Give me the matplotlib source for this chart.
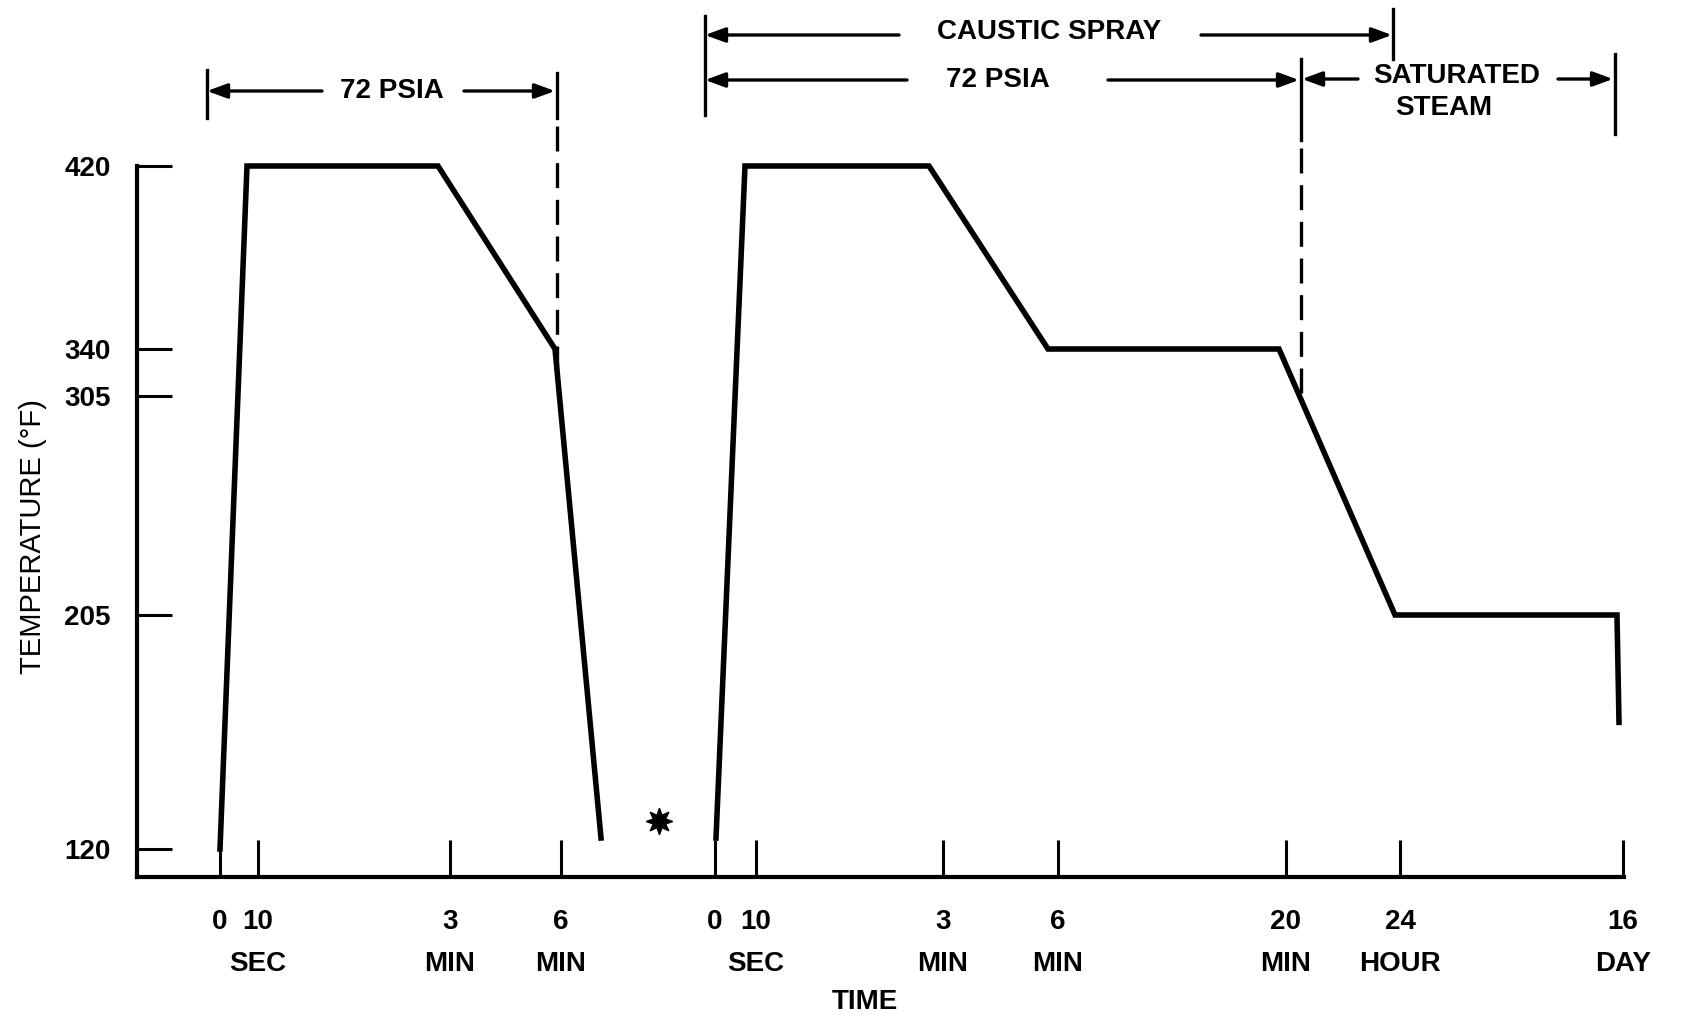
import numpy as np
import matplotlib
matplotlib.use('Agg')
import matplotlib.pyplot as plt

plt.rcParams['font.family'] = ['Liberation Sans', 'DejaVu Sans']

# temperature axis (not linear on the sheet): tick values and their heights
temp_ticks = [120, 205, 305, 340, 420]
temp_pos = [166, 400, 619, 666, 849]

# schematic time axis: tick positions and labels
time_pos = [220, 258, 450, 561, 715, 756, 943, 1058, 1286, 1400, 1623]
time_labels = ['0', '10\nSEC', '3\nMIN', '6\nMIN',
               '0', '10\nSEC', '3\nMIN', '6\nMIN', '20\nMIN', '24\nHOUR', '16\nDAY']

# first test cycle
cyc1_x = [220, 247, 438, 555, 601]
cyc1_t = [120, 420, 420, 340, 124]

# second test cycle
cyc2_x = [716, 745, 929, 1048, 1279, 1395, 1617, 1619]
cyc2_t = [124, 420, 420, 340, 340, 205, 205, 166]

star_x, star_t = 659, 130

s_lo = (temp_pos[1] - temp_pos[0]) / (temp_ticks[1] - temp_ticks[0])
s_hi = (temp_pos[-1] - temp_pos[-2]) / (temp_ticks[-1] - temp_ticks[-2])


def fwd(t):
    t = np.asarray(t, dtype=float)
    h = np.interp(t, temp_ticks, temp_pos)
    h = np.where(t < temp_ticks[0], temp_pos[0] + (t - temp_ticks[0]) * s_lo, h)
    h = np.where(t > temp_ticks[-1], temp_pos[-1] + (t - temp_ticks[-1]) * s_hi, h)
    return h


def inv(h):
    h = np.asarray(h, dtype=float)
    t = np.interp(h, temp_pos, temp_ticks)
    t = np.where(h < temp_pos[0], temp_ticks[0] + (h - temp_pos[0]) / s_lo, t)
    t = np.where(h > temp_pos[-1], temp_ticks[-1] + (h - temp_pos[-1]) / s_hi, t)
    return t


W, H = 1683, 1015
ax_bottom, ax_left, ax_right = 138, 137, 1624

fig = plt.figure(figsize=(W / 100, H / 100), dpi=100)
ax = fig.add_axes([ax_left / W, ax_bottom / H, (ax_right - ax_left) / W, (H - ax_bottom) / H])
ax.set_yscale('function', functions=(fwd, inv))
ax.set_xlim(ax_left, ax_right)
ax.set_ylim(float(inv(ax_bottom)), float(inv(H)))

for side in ['top', 'right']:
    ax.spines[side].set_visible(False)
ax.spines['left'].set_bounds(float(inv(ax_bottom)), 420)
ax.spines['left'].set_linewidth(3)
ax.spines['bottom'].set_linewidth(3)

ax.set_yticks(temp_ticks, [str(t) for t in temp_ticks])
ax.set_xticks(time_pos, time_labels)
ax.tick_params(axis='y', direction='in', length=25, width=2.2, pad=19, labelsize=20)
ax.tick_params(axis='x', direction='in', length=27, width=2.2, pad=23, labelsize=20)
for lab in ax.get_xticklabels() + ax.get_yticklabels():
    lab.set_fontweight('bold')
for lab in ax.get_xticklabels():
    lab.set_linespacing(1.8)

ax.plot(cyc1_x, cyc1_t, color='k', lw=4, solid_joinstyle='miter', clip_on=False)
ax.plot(cyc2_x, cyc2_t, color='k', lw=4, solid_joinstyle='miter', clip_on=False)
ax.plot(star_x, star_t, marker=(8, 1, 0), ms=19, color='k', clip_on=False)

# annotations above the plot: x in data, y in axes fraction
tr = ax.get_xaxis_transform()


def yf(py):
    return (H - ax_bottom - py) / (H - ax_bottom)


def bar(x, top, bot, dashed_to=None):
    ax.plot([x, x], [yf(top), yf(bot)], transform=tr, color='k', lw=2.4, clip_on=False)
    if dashed_to is not None:
        ax.plot([x, x], [yf(bot + 8), dashed_to], transform=tr, color='k', lw=2.4,
                linestyle=(0, (7.5, 3.5)), clip_on=False)


def arrow(x0, x1, py):
    ax.annotate('', xy=(x1, yf(py)), xytext=(x0, yf(py)), xycoords=tr, textcoords=tr,
                arrowprops=dict(arrowstyle='-|>,head_length=0.6,head_width=0.22',
                                mutation_scale=20, lw=2.4, color='k',
                                shrinkA=0, shrinkB=0),
                annotation_clip=False)


def label(x, py, s):
    ax.text(x, yf(py), s, transform=tr, ha='center', va='center',
            fontsize=20, fontweight='bold')


def curve_frac(x, xs, ts):
    h = np.interp(x, xs, fwd(ts))
    return (h - ax_bottom) / (H - ax_bottom)


# first cycle: 72 PSIA
bar(207, 70, 118)
bar(557, 73, 118, dashed_to=curve_frac(557, cyc1_x, cyc1_t))
arrow(322, 207, 91)
arrow(464, 555, 91)
label(392, 91, '72 PSIA')

# second cycle: caustic spray, 72 PSIA, saturated steam
bar(705, 16, 115)
bar(1393, 9, 59)
arrow(899, 705, 35)
arrow(1201, 1392, 35)
label(1049, 32, 'CAUSTIC SPRAY')

bar(1301, 59, 140, dashed_to=curve_frac(1301, cyc2_x, cyc2_t))
arrow(907, 705, 80)
arrow(1108, 1299, 80)
label(998, 80, '72 PSIA')

bar(1615, 54, 134)
arrow(1358, 1302, 79)
arrow(1558, 1613, 79)
label(1457, 76, 'SATURATED')
label(1444, 108, 'STEAM')

label(865, 1002, 'TIME')
fig.text(33 / W, 1 - 537 / H, 'TEMPERATURE (°F)', rotation=90, ha='center', va='center',
         fontsize=21)

fig.savefig('out.png', dpi=100)
